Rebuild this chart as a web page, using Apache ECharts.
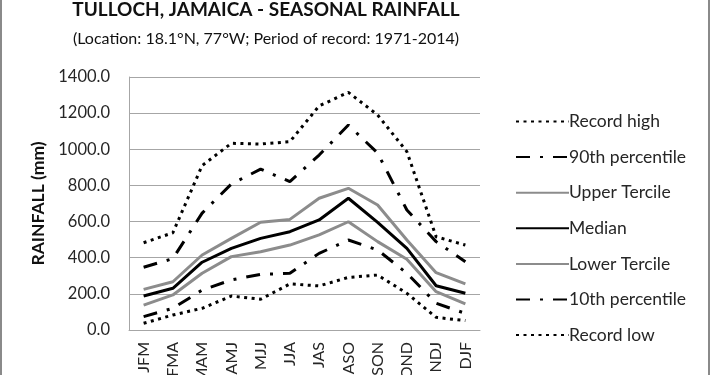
<!DOCTYPE html>
<html>
<head>
<meta charset="utf-8">
<script src="https://cdn.jsdelivr.net/npm/echarts@6/dist/echarts.min.js"></script>
<style>
  html, body { margin: 0; padding: 0; background: #fff; }
  #wrap { position: relative; width: 710px; height: 375px; overflow: hidden; }
  #rainChart { width: 710px; height: 375px; }
  .edge { position: absolute; top: 0; width: 2px; height: 375px; background: #8a8a8a; }
</style>
</head>
<body>
<div id="wrap">
  <div id="rainChart"></div>
  <div class="edge" style="left:0"></div>
  <div class="edge" style="right:0"></div>
</div>
<script>
// 季节 (3个月滑动)
var seasons = ['JFM', 'FMA', 'MAM', 'AMJ', 'MJJ', 'JJA', 'JAS', 'ASO', 'SON', 'OND', 'NDJ', 'DJF'];
var yTicks = [0, 200, 400, 600, 800, 1000, 1200, 1400];

// 降雨量 mm
var recordHigh = [483, 538, 910, 1033, 1029, 1042, 1240, 1315, 1190, 987, 516, 470];
var pct90 = [347, 395, 647, 808, 890, 821, 968, 1134, 979, 664, 489, 378];
var upperTercile = [225, 267, 415, 507, 596, 612, 729, 784, 692, 498, 317, 255];
var median = [188, 231, 375, 452, 507, 544, 609, 729, 596, 452, 245, 203];
var lowerTercile = [138, 194, 314, 406, 433, 470, 526, 599, 489, 391, 212, 144];
var pct10 = [74, 120, 221, 277, 308, 314, 424, 498, 443, 314, 148, 92];
var recordLow = [37, 83, 120, 188, 170, 255, 244, 291, 304, 203, 70, 52];

var FONT = 'Lato, "Liberation Sans", sans-serif';
var TXT = '#262626';

var DOT = [3, 4.5];
var DASHDOT = [14, 10, 3, 10];

function mkLine(name, data, color, width, type) {
  return {
    name: name,
    type: 'line',
    data: data,
    symbol: 'none',
    smooth: false,
    lineStyle: { color: color, width: width, type: type, cap: 'butt' },
    itemStyle: { color: color },
    emphasis: { disabled: true }
  };
}

var myChart = echarts.init(document.getElementById('rainChart'));

var option = {
  animation: false,
  textStyle: { fontFamily: FONT },
  title: [
    {
      text: 'TULLOCH, JAMAICA - SEASONAL RAINFALL',
      left: 261, textAlign: 'center', top: -5,
      textStyle: { fontSize: 19, fontWeight: 'bold', color: '#111', fontFamily: FONT }
    },
    {
      text: '(Location: 18.1°N, 77°W; Period of record: 1971-2014)',
      left: 261, textAlign: 'center', top: 26,
      textStyle: { fontSize: 16, fontWeight: 'normal', color: '#111', fontFamily: FONT }
    }
  ],
  legend: {
    orient: 'vertical',
    left: 510,
    top: 107.5,
    itemWidth: 53,
    itemHeight: 14,
    itemGap: 17.6,
    itemStyle: { opacity: 0 },
    textStyle: { fontSize: 17.5, lineHeight: 18, color: TXT, fontFamily: FONT, padding: [0, 0, 0, -5] },
    data: ['Record high', '90th percentile', 'Upper Tercile', 'Median', 'Lower Tercile', '10th percentile', 'Record low']
  },
  grid: { left: 129, right: 230, top: 77, bottom: 45, outerBoundsMode: 'none' },
  xAxis: {
    type: 'category',
    data: seasons,
    boundaryGap: true,
    axisLine: { lineStyle: { color: '#a6a6a6', width: 1 } },
    axisTick: { show: false },
    axisLabel: { rotate: 90, interval: 0, margin: 12, fontSize: 16, color: TXT, fontFamily: FONT }
  },
  yAxis: {
    type: 'value',
    min: yTicks[0],
    max: yTicks[yTicks.length - 1],
    interval: 200,
    name: 'RAINFALL (mm)',
    nameLocation: 'middle',
    nameGap: 82,
    nameTextStyle: { fontSize: 17.5, fontWeight: 'bold', color: '#111', fontFamily: FONT },
    axisLine: { show: true, lineStyle: { color: '#a6a6a6', width: 1 } },
    axisTick: { show: false },
    splitLine: { lineStyle: { color: '#a6a6a6', width: 1 } },
    axisLabel: {
      margin: 19, fontSize: 16.5, color: TXT, fontFamily: FONT,
      formatter: function (v) { return v.toFixed(1); }
    }
  },
  series: [
    mkLine('Record high', recordHigh, '#000', 3, DOT),
    mkLine('90th percentile', pct90, '#000', 3, DASHDOT),
    mkLine('Upper Tercile', upperTercile, '#8c8c8c', 3, 'solid'),
    mkLine('Median', median, '#000', 3, 'solid'),
    mkLine('Lower Tercile', lowerTercile, '#8c8c8c', 3, 'solid'),
    mkLine('10th percentile', pct10, '#000', 3, DASHDOT),
    mkLine('Record low', recordLow, '#000', 3, DOT)
  ]
};

myChart.setOption(option);
</script>
</body>
</html>
